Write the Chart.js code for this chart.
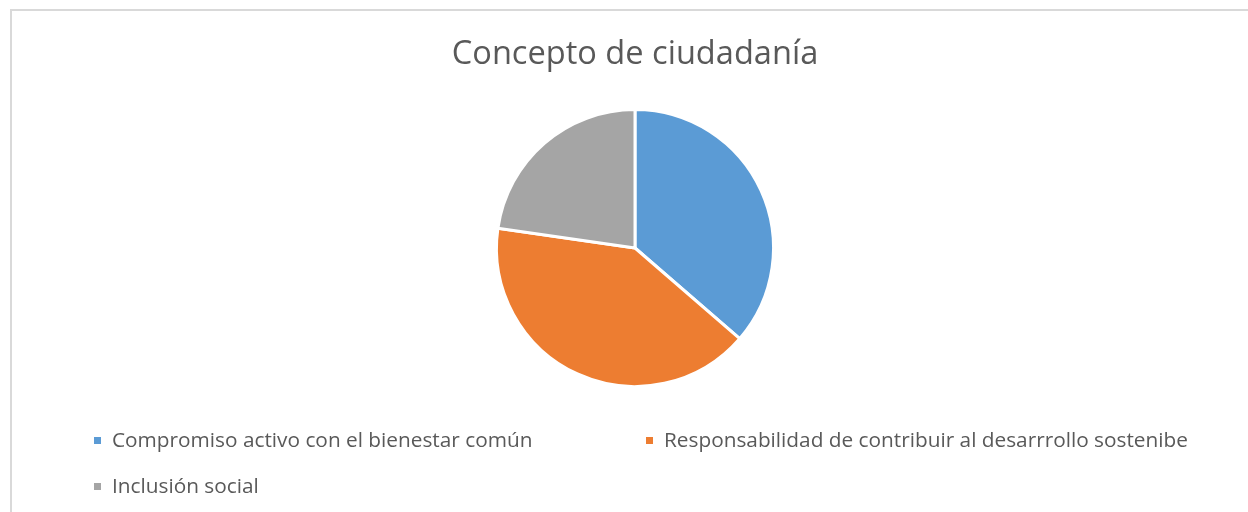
<!DOCTYPE html>
<html>
<head>
<meta charset="utf-8">
<script src="https://cdn.jsdelivr.net/npm/chart.js@4/dist/chart.umd.min.js"></script>
<style>
  html, body { margin: 0; padding: 0; background: #fff; overflow: hidden; }
  #wrap { position: relative; width: 1248px; height: 512px; }
  #frame { position: absolute; left: 10px; top: 9px; width: 1300px; height: 600px;
    border: 2px solid #d9d9d9; box-sizing: border-box; }
  #chart { position: absolute; left: 0; top: 0; }
</style>
</head>
<body>
<div id="wrap">
  <div id="frame"></div>
  <canvas id="chart" width="1248" height="512"></canvas>
</div>
<script>
// Data (slice shares ~36% / 41% / 23%)
var chartTitle = 'Concepto de ciudadanía';
var categories = [
  'Compromiso activo con el bienestar común',
  'Responsabilidad de contribuir al desarrrollo sostenibe',
  'Inclusión social'
];
var values = [16, 18, 10];
var colors = ['#5B9BD5', '#ED7D31', '#A5A5A5'];

var textColor = '#595959';
var fontFamily = '"Open Sans", "Noto Sans", sans-serif';

// Title + Excel-style two-column legend, drawn on the canvas
var decorations = {
  id: 'decorations',
  afterDraw: function (chart) {
    var ctx = chart.ctx;
    ctx.save();
    ctx.fillStyle = textColor;
    ctx.textAlign = 'center';
    ctx.textBaseline = 'middle';
    ctx.font = '32.6px ' + fontFamily;
    ctx.fillText(chartTitle, 635, 55);

    var slots = [{ x: 94, y: 441 }, { x: 646, y: 441 }, { x: 94, y: 487 }];
    ctx.font = '20.8px ' + fontFamily;
    ctx.textAlign = 'left';
    chart.data.labels.forEach(function (label, i) {
      var s = slots[i];
      ctx.fillStyle = chart.data.datasets[0].backgroundColor[i];
      ctx.fillRect(s.x, s.y - 4, 7, 7);
      ctx.fillStyle = textColor;
      ctx.fillText(label, s.x + 18, s.y);
    });
    ctx.restore();
  }
};

new Chart(document.getElementById('chart'), {
  type: 'pie',
  data: {
    labels: categories,
    datasets: [{
      data: values,
      backgroundColor: colors,
      borderColor: '#ffffff',
      borderWidth: 3
    }]
  },
  options: {
    responsive: false,
    animation: false,
    layout: { padding: { top: 108, bottom: 124, left: 22, right: 0 } },
    plugins: {
      legend: { display: false },
      title: { display: false },
      tooltip: { enabled: false }
    }
  },
  plugins: [decorations]
});
</script>
</body>
</html>
